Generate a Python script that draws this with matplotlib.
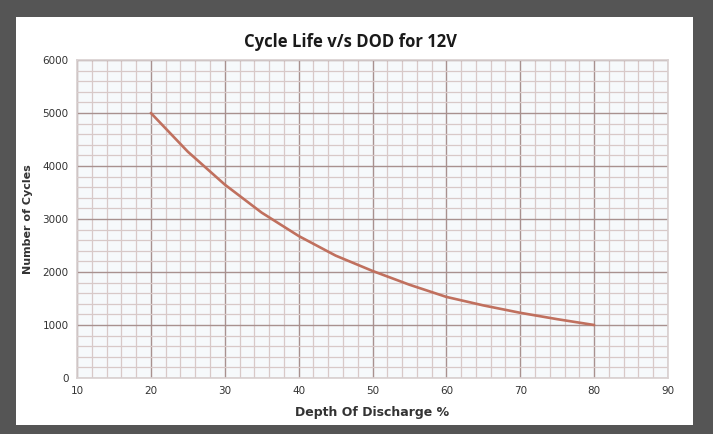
import matplotlib.pyplot as plt
from matplotlib.patches import Rectangle
from matplotlib.ticker import MultipleLocator

dod = [20, 25, 30, 35, 40, 45, 50, 55, 60, 65, 70, 75, 80]
cycles = [5000, 4270, 3650, 3120, 2680, 2310, 2020, 1760, 1530, 1370, 1230, 1110, 1000]

x_ticks = [10, 20, 30, 40, 50, 60, 70, 80, 90]
y_ticks = [0, 1000, 2000, 3000, 4000, 5000, 6000]

title = "Cycle Life v/s DOD for 12V"
x_label = "Depth Of Discharge %"
y_label = "Number of Cycles"

fig = plt.figure(figsize=(7.13, 4.34), dpi=100)
fig.patch.set_facecolor("#555555")

# white card inside the dark frame
fig.patches.append(Rectangle((16 / 713, 1 - 425 / 434), (693 - 16) / 713, (425 - 17) / 434,
                             transform=fig.transFigure, facecolor="white", edgecolor="none", zorder=-5))

ax = fig.add_axes([77 / 713, 1 - 378 / 434, (668 - 77) / 713, (378 - 60) / 434])
ax.set_zorder(2)
ax.set_facecolor("#f6f9fb")

ax.plot(dod, cycles, color="#c0705e", lw=1.9, solid_capstyle="round", zorder=3)

ax.set_xlim(10, 90)
ax.set_ylim(0, 6000)
ax.set_xticks(x_ticks)
ax.set_yticks(y_ticks)
ax.xaxis.set_minor_locator(MultipleLocator(2))
ax.yaxis.set_minor_locator(MultipleLocator(200))
ax.grid(which="major", color="#a8918f", lw=1.0, zorder=1)
ax.grid(which="minor", color="#d8c9c8", lw=0.9, zorder=1)
ax.tick_params(which="both", length=0, labelsize=7.5, colors="#333333", pad=6)

for s in ax.spines.values():
    s.set_color("#d8d0d0")
    s.set_linewidth(1.2)

fig.text(350 / 713, 1 - 42 / 434, title, ha="center", va="center",
         fontsize=12, fontweight="bold", family="Open Sans", color="#1a1a1a", zorder=3)
ax.set_xlabel(x_label, fontsize=9, fontweight="bold", color="#333333", labelpad=7)
ax.set_ylabel(y_label, fontsize=8, fontweight="bold", color="#333333", labelpad=7)

plt.savefig("out.png", dpi=100, facecolor=fig.get_facecolor())
plt.close()
